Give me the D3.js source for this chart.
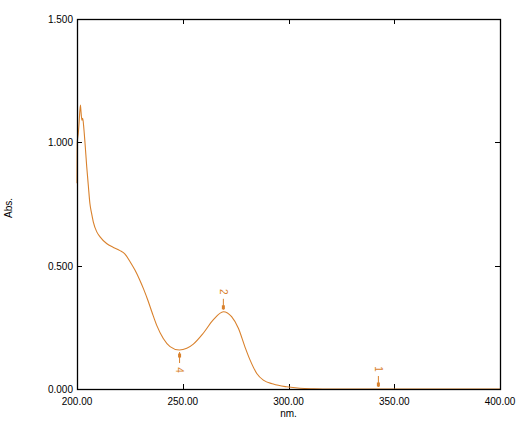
<!DOCTYPE html>
<html><head><meta charset="utf-8">
<script src="https://cdn.jsdelivr.net/npm/d3@7"></script>
<style>body{margin:0;background:#fff}svg{display:block}text{font-family:"Liberation Sans",Arial,sans-serif;font-size:10px;fill:#000}</style>
</head><body>
<script>
const wavelengths = [200.0,200.1,200.6,201.0,201.6,201.9,202.3,202.7,203.3,203.8,204.6,205.4,206.1,206.9,207.7,209.3,210.9,214.0,217.2,220.3,222.7,225.1,227.4,229.5,231.5,233.5,235.5,237.7,240.8,244.0,248.4,251.9,255.0,259.7,264.4,269.2,273.1,276.3,279.4,281.8,285.0,288.1,292.8,299.1,305.4,312.0,320.0,340.0,370.0,400.0];
const absorbance  = [0.834,1.000,1.036,1.080,1.151,1.124,1.090,1.097,1.050,0.996,0.901,0.820,0.752,0.712,0.678,0.638,0.617,0.590,0.574,0.561,0.547,0.516,0.482,0.445,0.405,0.360,0.310,0.258,0.205,0.172,0.158,0.165,0.182,0.226,0.280,0.313,0.293,0.246,0.171,0.118,0.063,0.036,0.020,0.009,0.003,0.001,0.000,0.000,0.000,0.000];
const peakNumbers = ["1","2","4"];
const peakWavelengths = [342.5,269.2,248.5];
const peakAbsorbance = [0.000,0.313,0.158];
const peakKinds = ["peak","peak","valley"];
const xTicks = [200,250,300,350,400];
const yTicks = [0,0.5,1.0,1.5];
const xLabel = "nm.";
const yLabel = "Abs.";

const W = 524, H = 439;
const m = {left:77, top:19, right:500, bottom:389};
const col = "#d9812c";
const svg = d3.select("body").append("svg").attr("width",W).attr("height",H);
const x = d3.scaleLinear().domain([200,400]).range([m.left,m.right]);
const y = d3.scaleLinear().domain([0,1.5]).range([m.bottom,m.top]);

// ticks inward
const g = svg.append("g").attr("stroke","#000").attr("stroke-width",1).attr("shape-rendering","crispEdges");
xTicks.slice(1,-1).forEach(t=>{
  g.append("line").attr("x1",Math.round(x(t))+0.5).attr("x2",Math.round(x(t))+0.5).attr("y1",m.bottom).attr("y2",m.bottom-5);
  g.append("line").attr("x1",Math.round(x(t))+0.5).attr("x2",Math.round(x(t))+0.5).attr("y1",m.top).attr("y2",m.top+5);
});
yTicks.slice(1,-1).forEach(t=>{
  g.append("line").attr("y1",Math.round(y(t))+0.5).attr("y2",Math.round(y(t))+0.5).attr("x1",m.left).attr("x2",m.left+5);
  g.append("line").attr("y1",Math.round(y(t))+0.5).attr("y2",Math.round(y(t))+0.5).attr("x1",m.right).attr("x2",m.right-5);
});

// curve
const data = wavelengths.map((w,i)=>[w,absorbance[i]]);
svg.append("path").datum(data).attr("fill","none").attr("stroke",col).attr("stroke-width",1.1)
  .attr("d",d3.line().x(d=>x(d[0])).y(d=>y(d[1])).curve(d3.curveMonotoneX));

// frame
svg.append("rect").attr("x",m.left+0.5).attr("y",m.top+0.5).attr("width",m.right-m.left).attr("height",m.bottom-m.top)
  .attr("fill","none").attr("stroke","#000").attr("stroke-width",1.3);

// tick labels
yTicks.forEach(t=>svg.append("text").attr("x",m.left-4).attr("y",y(t)+4).attr("text-anchor","end").text(t.toFixed(3)));
xTicks.forEach(t=>svg.append("text").attr("x",x(t)).attr("y",m.bottom+16).attr("text-anchor","middle").text(t.toFixed(2)));
svg.append("text").attr("x",(m.left+m.right)/2).attr("y",m.bottom+28).attr("text-anchor","middle").attr("font-size",9).text(xLabel);
svg.append("text").attr("transform",`translate(12,${(m.top+m.bottom)/2+4}) rotate(-90)`).attr("text-anchor","middle").attr("font-size",9).text(yLabel);

// peak markers
peakNumbers.forEach((n,i)=>{
  const px = x(peakWavelengths[i]), py = y(peakAbsorbance[i]);
  const dir = peakKinds[i]==="valley" ? 1 : -1;
  const a0 = py + dir*2, a1 = py + dir*13;
  svg.append("line").attr("x1",px).attr("x2",px).attr("y1",a0).attr("y2",a1).attr("stroke",col).attr("stroke-width",1);
  svg.append("rect").attr("x",px-1.5).attr("y",py+dir*5-1.5).attr("width",3).attr("height",4).attr("fill",col);
  svg.append("text").attr("transform",`translate(${px-3.5},${py+dir*20}) rotate(90)`)
    .attr("text-anchor","middle").attr("fill",col).style("fill",col).text(n);
});
</script>
</body></html>
